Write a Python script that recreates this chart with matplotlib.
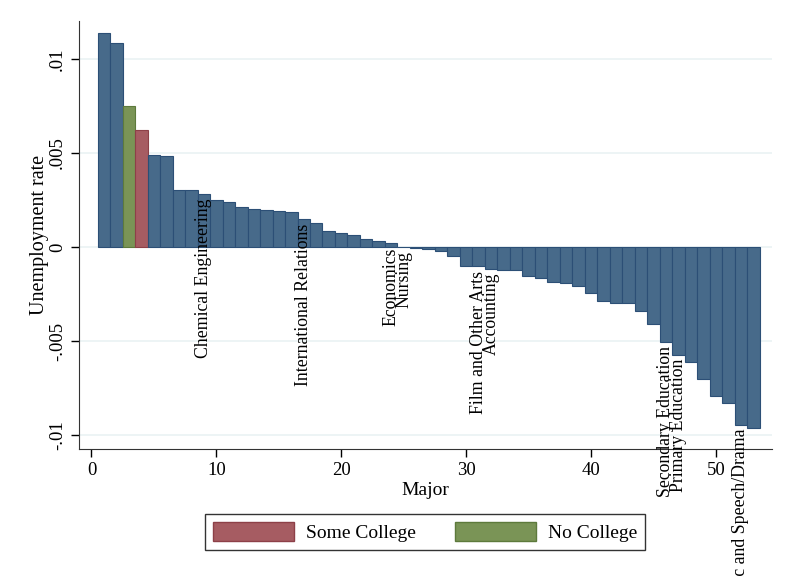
import matplotlib.pyplot as plt
from matplotlib.patches import Patch
import numpy as np

# ===== Data =====
major = np.arange(1, 54)
rate = [0.0114, 0.01087, 0.00748, 0.00624, 0.00489, 0.00486, 0.00305, 0.00305,
        0.0028, 0.00252, 0.00238, 0.00211, 0.00200, 0.00197, 0.00193, 0.00188,
        0.00147, 0.00130, 0.00083, 0.00073, 0.00066, 0.00044, 0.00032, 0.00021,
        0.00001, -0.00003, -0.00010, -0.00023, -0.00048, -0.00103, -0.00103,
        -0.00115, -0.00122, -0.00122, -0.00156, -0.00165, -0.00188, -0.00191,
        -0.00209, -0.00246, -0.00289, -0.00298, -0.00298, -0.00339, -0.00410,
        -0.00507, -0.00573, -0.00612, -0.00704, -0.00793, -0.00832, -0.00945,
        -0.00961]
group = ['college'] * 53
group[2] = 'none'
group[3] = 'some'

label_pos = [9, 17, 24, 25, 31, 32, 46, 47, 52]
label_txt = ['Chemical Engineering', 'International Relations', 'Economics', 'Nursing',
             'Film and Other Arts', 'Accounting', 'Secondary Education',
             'Primary Education', 'Music and Speech/Drama']

yticks = [-0.01, -0.005, 0, 0.005, 0.01]
ytick_labels = ['-.01', '-.005', '0', '.005', '.01']

# ===== Style =====
colors = {'college': '#476a8a', 'some': '#a65c62', 'none': '#7a9456'}
edges = {'college': '#2c4f76', 'some': '#8d4048', 'none': '#5d7a3c'}

plt.rcParams['font.family'] = ['Liberation Serif', 'DejaVu Serif']

fig = plt.figure(figsize=(7.94, 5.77), dpi=100)
ax = fig.add_axes([0.0995, 0.222, 0.8728, 0.7416])

ax.bar(major, rate, width=1, color=[colors[g] for g in group],
       edgecolor=[edges[g] for g in group], linewidth=0.8, zorder=2)

# rotated major names hanging from the end of their bars
for pos, txt in zip(label_pos, label_txt):
    v = rate[pos - 1]
    ax.annotate(txt, (pos, v), xytext=(0, -3), textcoords='offset points',
                rotation=90, ha='center', va='top', fontsize=12.8,
                annotation_clip=False, zorder=3)

ax.set_xlim(-1, 54.5)
ax.set_ylim(-0.01074, 0.01202)
ax.set_xticks([0, 10, 20, 30, 40, 50])
ax.set_yticks(yticks)
ax.set_yticklabels(ytick_labels, rotation=90, va='center')
ax.tick_params(labelsize=13.5, length=6, width=1, direction='out')
ax.yaxis.grid(True, color='#eaf2f3', linewidth=1.2, zorder=0)
ax.set_axisbelow(True)
for s in ['top', 'right']:
    ax.spines[s].set_visible(False)
for s in ['left', 'bottom']:
    ax.spines[s].set_color('#333333')
ax.set_xlabel('Major', fontsize=14, labelpad=2)
ax.set_ylabel('Unemployment rate', fontsize=14.5, labelpad=0)

handles = [Patch(facecolor=colors['some'], edgecolor=edges['some'], label='Some College'),
           Patch(facecolor=colors['none'], edgecolor=edges['none'], label='No College')]
fig.legend(handles=handles, loc='center', bbox_to_anchor=(425 / 794, 1 - 532 / 577),
           ncol=2, fontsize=14, frameon=True, fancybox=False, edgecolor='black',
           handlelength=4.2, handleheight=1.1, handletextpad=0.6, columnspacing=2.0,
           borderpad=0.4)

plt.savefig('out.png', dpi=100)
